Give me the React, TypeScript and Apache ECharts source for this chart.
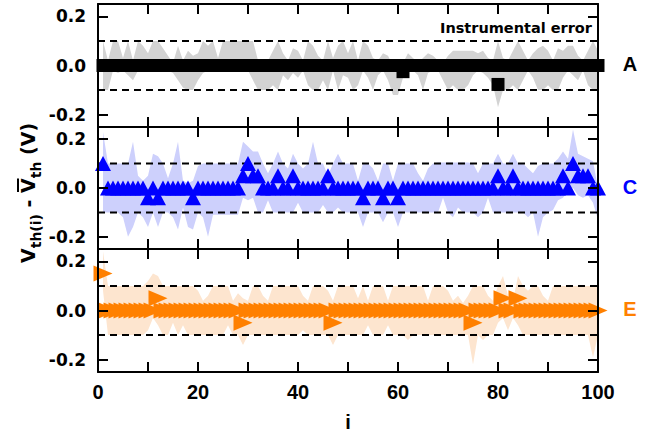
import React, { useEffect, useRef } from "react";
import * as echarts from "echarts";

// ---------- data ----------
const INDEX: number[] = [
  1, 2, 3, 4, 5, 6, 7, 8, 9, 10, 11, 12, 13, 14, 15, 16, 17, 18, 19, 20,
  21, 22, 23, 24, 25, 26, 27, 28, 29, 30, 31, 32, 33, 34, 35, 36, 37, 38, 39, 40,
  41, 42, 43, 44, 45, 46, 47, 48, 49, 50, 51, 52, 53, 54, 55, 56, 57, 58, 59, 60,
  61, 62, 63, 64, 65, 66, 67, 68, 69, 70, 71, 72, 73, 74, 75, 76, 77, 78, 79, 80,
  81, 82, 83, 84, 85, 86, 87, 88, 89, 90, 91, 92, 93, 94, 95, 96, 97, 98, 99, 100,
];

const A_VALUES: number[] = [
  0, 0, 0, 0, 0, 0, 0, 0, 0, 0, 0, 0, 0, 0, 0, 0, 0, 0, 0, 0,
  0, 0, 0, 0, 0, 0, 0, 0, 0, 0, 0, 0, 0, 0, 0, 0, 0, 0, 0, 0,
  0, 0, 0, 0, 0, 0, 0, 0, 0, 0, 0, 0, 0, 0, 0, 0, 0, 0, 0, 0,
  -0.025, 0, 0, 0, 0, 0, 0, 0, 0, 0, 0, 0, 0, 0, 0, 0, 0, 0, 0, -0.077,
  0, 0, 0, 0, 0, 0, 0, 0, 0, 0, 0, 0, 0, 0, 0, 0, 0, 0, 0, 0,
];
const A_UPPER: number[] = [
  0.1, 0.02, 0.1, 0.1, 0.03, 0.1, 0.02, 0.1, 0.08, 0.05,
  0.1, 0.1, 0.07, 0.04, 0.01, 0.08, 0.02, 0.06, 0.04, 0.05,
  0.1, 0.08, 0.1, 0.03, 0.1, 0.1, 0.1, 0.1, 0.1, 0.1,
  0.1, 0.02, 0.0, 0.02, 0.06, 0.1, 0.05, 0.02, 0.07, 0.06,
  0.02, 0.1, 0.08, 0.04, 0.02, 0.1, 0.03, 0.08, 0.1, 0.05,
  0.1, 0.02, 0.1, 0.08, 0.03, 0.02, 0.05, 0.04, 0.0, 0.0,
  0.01, 0.05, 0.03, 0.01, 0.03, 0.05, 0.04, 0.02, 0.01, 0.04,
  0.06, 0.06, 0.06, 0.06, 0.06, 0.05, 0.06, 0.03, 0.02, 0.1,
  0.03, 0.02, 0.06, 0.1, 0.06, 0.02, 0.05, 0.07, 0.08, 0.06,
  0.02, 0.07, 0.06, 0.08, 0.08, 0.04, 0.02, 0.06, 0.1, 0.06,
];
const A_LOWER: number[] = [
  -0.1, -0.1, -0.02, -0.03, -0.02, -0.04, -0.06, -0.02, -0.02, -0.02,
  -0.02, -0.02, -0.02, -0.02, -0.03, -0.06, -0.09, -0.1, -0.1, -0.06,
  -0.03, -0.02, -0.02, -0.02, -0.02, -0.02, -0.02, -0.02, -0.02, -0.02,
  -0.06, -0.1, -0.1, -0.1, -0.08, -0.1, -0.04, -0.06, -0.03, -0.05,
  -0.02, -0.08, -0.1, -0.1, -0.06, -0.1, -0.02, -0.1, -0.04, -0.05,
  -0.1, -0.08, -0.02, -0.05, -0.1, -0.04, -0.02, -0.06, -0.12, -0.12,
  -0.05, -0.02, -0.02, -0.04, -0.1, -0.03, -0.02, -0.02, -0.06, -0.1,
  -0.08, -0.1, -0.1, -0.08, -0.04, -0.02, -0.03, -0.05, -0.08, -0.17,
  -0.1, -0.1, -0.08, -0.1, -0.06, -0.02, -0.05, -0.1, -0.1, -0.08,
  -0.1, -0.1, -0.05, -0.02, -0.04, -0.06, -0.02, -0.08, -0.1, -0.1,
];

const C_VALUES: number[] = [
  0.1, 0, 0, 0, 0, 0, 0, 0, 0, -0.04, 0, -0.04, 0, 0, 0, 0, 0, 0, -0.04, 0,
  0, 0, 0, 0, 0, 0, 0, 0, 0.05, 0.1, 0.05, 0.05, 0, 0, 0, 0.05, 0, 0, 0.05, 0,
  0, 0, 0, 0, 0, 0.05, 0, 0, 0, 0, 0, 0, -0.04, 0, 0, 0, -0.04, 0, 0, -0.04,
  0, 0, 0, 0, 0, 0, 0, 0, 0, 0, 0, 0, 0, 0, 0, 0, 0, 0, 0, 0.05,
  0, 0, 0.05, 0, 0, 0, 0, 0, 0, 0, 0, 0, 0.05, 0, 0.1, 0.05, 0.05, 0.05, 0, 0,
];
const C_UPPER: number[] = [
  0.23, 0.1, 0.1, 0.1, 0.1, 0.1, 0.19, 0.05, 0.03, 0.05,
  0.14, 0.13, 0.1, 0.04, 0.1, 0.19, 0.03, 0.02, 0.03, 0.09,
  0.1, 0.1, 0.1, 0.1, 0.1, 0.1, 0.1, 0.1, 0.19, 0.17,
  0.15, 0.15, 0.1, 0.06, 0.1, 0.15, 0.1, 0.08, 0.14, 0.1,
  0.08, 0.1, 0.19, 0.1, 0.1, 0.05, 0.1, 0.14, 0.1, 0.1,
  0.1, 0.03, 0.1, 0.1, 0.08, 0.03, 0.1, 0.1, 0.03, 0.1,
  0.1, 0.1, 0.1, 0.06, 0.03, 0.08, 0.1, 0.105, 0.105, 0.105,
  0.105, 0.105, 0.105, 0.105, 0.1, 0.06, 0.1, 0.1, 0.1, 0.14,
  0.1, 0.1, 0.14, 0.1, 0.1, 0.08, 0.06, 0.09, 0.1, 0.1,
  0.1, 0.12, 0.15, 0.12, 0.24, 0.14, 0.13, 0.12, 0.11, 0.0,
];
const C_LOWER: number[] = [
  -0.1, -0.1, -0.1, -0.1, -0.12, -0.2, -0.16, -0.1, -0.12, -0.16,
  -0.1, -0.16, -0.1, -0.1, -0.12, -0.17, -0.08, -0.16, -0.17, -0.1,
  -0.12, -0.2, -0.11, -0.11, -0.11, -0.11, -0.11, -0.11, -0.04, -0.05,
  -0.04, -0.1, -0.1, -0.05, -0.1, -0.1, -0.1, -0.1, -0.1, -0.06,
  -0.1, -0.1, -0.1, -0.1, -0.07, -0.1, -0.1, -0.08, -0.1, -0.1,
  -0.1, -0.1, -0.16, -0.1, -0.1, -0.1, -0.14, -0.1, -0.1, -0.16,
  -0.1, -0.1, -0.1, -0.1, -0.1, -0.1, -0.1, -0.1, -0.04, -0.1,
  -0.12, -0.08, -0.1, -0.1, -0.1, -0.12, -0.1, -0.04, -0.1, -0.1,
  -0.1, -0.1, -0.1, -0.1, -0.1, -0.12, -0.1, -0.2, -0.12, -0.1,
  -0.09, -0.05, -0.04, -0.01, 0.0, -0.03, -0.04, -0.03, -0.06, -0.13,
];

const E_VALUES: number[] = [
  0.15, 0, 0, 0, 0, 0, 0, 0, 0, 0, 0, 0.05, 0, 0, 0, 0, 0, 0, 0, 0,
  0, 0, 0, 0, 0, 0, 0, 0, -0.05, 0, 0, 0, 0, 0, 0, 0, 0, 0, 0, 0,
  0, 0, 0, 0, 0, 0, -0.05, 0, 0, 0, 0, 0, 0, 0, 0, 0, 0, 0, 0, 0,
  0, 0, 0, 0, 0, 0, 0, 0, 0, 0, 0, 0, 0, 0, -0.05, 0, 0, 0, 0, 0,
  0.05, 0, 0, 0.05, 0, 0, 0, 0, 0, 0, 0, 0, 0, 0, 0, 0, 0, 0, 0, 0,
];
const E_UPPER: number[] = [
  0.24, 0.1, 0.1, 0.1, 0.1, 0.1, 0.1, 0.1, 0.1, 0.12,
  0.15, 0.14, 0.1, 0.1, 0.1, 0.1, 0.1, 0.1, 0.1, 0.08,
  0.04, 0.06, 0.1, 0.1, 0.1, 0.1, 0.04, 0.07, 0.05, 0.04,
  0.1, 0.1, 0.06, 0.04, 0.1, 0.1, 0.1, 0.1, 0.1, 0.1,
  0.06, 0.04, 0.1, 0.1, 0.1, 0.08, 0.04, 0.1, 0.1, 0.1,
  0.1, 0.05, 0.1, 0.04, 0.1, 0.1, 0.1, 0.04, 0.1, 0.1,
  0.1, 0.1, 0.1, 0.1, 0.1, 0.04, 0.1, 0.1, 0.1, 0.08,
  0.04, 0.06, 0.03, 0.06, 0.1, 0.1, 0.1, 0.06, 0.04, 0.1,
  0.14, 0.06, 0.04, 0.14, 0.1, 0.08, 0.1, 0.1, 0.06, 0.04,
  0.1, 0.1, 0.1, 0.1, 0.1, 0.1, 0.1, 0.1, 0.1, 0.1,
];
const E_LOWER: number[] = [
  0.08, -0.1, -0.1, -0.1, -0.1, -0.1, -0.1, -0.1, -0.1, -0.08,
  -0.03, -0.06, -0.1, -0.1, -0.05, -0.1, -0.06, -0.1, -0.1, -0.1,
  -0.1, -0.1, -0.1, -0.1, -0.1, -0.06, -0.1, -0.1, -0.14, -0.1,
  -0.1, -0.1, -0.1, -0.1, -0.1, -0.1, -0.1, -0.1, -0.1, -0.1,
  -0.08, -0.1, -0.1, -0.1, -0.1, -0.1, -0.14, -0.1, -0.1, -0.1,
  -0.1, -0.1, -0.1, -0.06, -0.1, -0.1, -0.1, -0.06, -0.1, -0.1,
  -0.1, -0.12, -0.1, -0.1, -0.1, -0.1, -0.1, -0.1, -0.1, -0.1,
  -0.1, -0.1, -0.1, -0.1, -0.22, -0.1, -0.12, -0.1, -0.1, -0.05,
  -0.03, -0.08, -0.03, -0.06, -0.1, -0.1, -0.1, -0.1, -0.1, -0.1,
  -0.1, -0.1, -0.1, -0.1, -0.1, -0.1, -0.1, -0.1, -0.19, -0.1,
];

const PANEL_NAMES: string[] = ["A", "C", "E"];
const ERROR_LIMITS: number[] = [0.1, -0.1];
const X_TICK_LABELS: number[] = [0, 20, 40, 60, 80, 100];
const Y_TICK_VALUES: number[] = [-0.2, 0, 0.2];
const X_RANGE: number[] = [0, 100];
const Y_RANGE: number[] = [-0.25, 0.25];

// ---------- styles ----------
const FONT_WIDE = "DejaVu Sans";
const FONT = "Liberation Sans";
const GRID_TOPS = [4, 127, 249];
const GRID_HEIGHTS = [123, 122, 123];
const MARK_COLORS = ["#000000", "#0000ff", "#ff8000"];
const BAND_COLORS = ["#d3d3d3", "#cdd0fc", "#fde5cf"];
const SYMBOLS = ["rect", "triangle", "path://M0,0L10,5L0,10Z"];
const SYMBOL_SIZES: any[] = [13, [16, 15], [19, 16]];

const PANELS = [
  { values: A_VALUES, upper: A_UPPER, lower: A_LOWER },
  { values: C_VALUES, upper: C_UPPER, lower: C_LOWER },
  { values: E_VALUES, upper: E_UPPER, lower: E_LOWER },
];

function buildOption(): any {
  const grids: any[] = [];
  const xAxes: any[] = [];
  const yAxes: any[] = [];
  const series: any[] = [];
  const axisLine = { show: true, onZero: false, lineStyle: { color: "#000", width: 2 } };
  const tickStyle = { color: "#000", width: 2 };

  PANELS.forEach((p, g) => {
    grids.push({ left: 98, right: 58, top: GRID_TOPS[g], height: GRID_HEIGHTS[g], containLabel: false });
    const isBottom = g === PANELS.length - 1;
    xAxes.push({
      type: "value", gridIndex: g, position: "bottom", min: X_RANGE[0], max: X_RANGE[1], interval: 10,
      axisLine, axisTick: { show: true, inside: true, length: 10, lineStyle: tickStyle },
      splitLine: { show: false },
      axisLabel: {
        show: isBottom, customValues: X_TICK_LABELS, margin: 10,
        fontFamily: FONT, fontWeight: "bold", fontSize: 20, color: "#000",
      },
      name: isBottom ? "i" : "", nameLocation: "middle", nameGap: 40,
      nameTextStyle: { fontFamily: FONT, fontWeight: "bold", fontSize: 20, color: "#000" },
      z: 5,
    });
    xAxes.push({
      type: "value", gridIndex: g, position: "top", min: X_RANGE[0], max: X_RANGE[1], interval: 10,
      axisLine, axisTick: { show: true, inside: true, length: 10, lineStyle: tickStyle },
      splitLine: { show: false }, axisLabel: { show: false }, z: 5,
    });
    yAxes.push({
      type: "value", gridIndex: g, position: "left", min: Y_RANGE[0], max: Y_RANGE[1],
      axisLine, axisTick: { show: true, inside: true, length: 10, lineStyle: tickStyle, customValues: Y_TICK_VALUES },
      splitLine: { show: false },
      axisLabel: {
        show: true, customValues: Y_TICK_VALUES, margin: 12,
        formatter: (v: number) => v.toFixed(1),
        fontFamily: FONT_WIDE, fontWeight: "bold", fontSize: 17, color: "#000",
      },
      z: 5,
    });
    yAxes.push({
      type: "value", gridIndex: g, position: "right", min: Y_RANGE[0], max: Y_RANGE[1],
      axisLine, axisTick: { show: true, inside: true, length: 10, lineStyle: tickStyle, customValues: Y_TICK_VALUES },
      splitLine: { show: false }, axisLabel: { show: false }, z: 5,
    });

    const xi = 2 * g;
    const yi = 2 * g;
    const color = BAND_COLORS[g];
    series.push({
      type: "custom", coordinateSystem: "cartesian2d", xAxisIndex: xi, yAxisIndex: yi,
      data: INDEX.map((x, k) => [x, p.lower[k], p.upper[k]]),
      encode: { x: 0, y: [1, 2] }, silent: true, z: 1,
      renderItem: (params: any, api: any) => {
        if (params.dataIndex !== 0) return null;
        const pts: number[][] = [];
        for (let k = 0; k < INDEX.length; k++) pts.push(api.coord([INDEX[k], p.upper[k]]));
        for (let k = INDEX.length - 1; k >= 0; k--) pts.push(api.coord([INDEX[k], p.lower[k]]));
        return { type: "polygon", shape: { points: pts }, style: { fill: color, stroke: "none" } };
      },
    });
    ERROR_LIMITS.forEach((v) => {
      series.push({
        type: "line", xAxisIndex: xi, yAxisIndex: yi, silent: true, z: 2,
        data: [[X_RANGE[0], v], [X_RANGE[1], v]], symbol: "none", showSymbol: false,
        lineStyle: { color: "#000", width: 2, type: [7, 5] },
      });
    });
    series.push({
      type: "scatter", xAxisIndex: xi, yAxisIndex: yi, clip: false,
      data: INDEX.map((x, k) => [x, p.values[k]]),
      symbol: SYMBOLS[g], symbolSize: SYMBOL_SIZES[g],
      itemStyle: { color: MARK_COLORS[g], opacity: 1 }, z: 3, silent: true,
    });
  });

  const titleX = 28;
  const titleY = 263;
  const big = { fontFamily: FONT_WIDE, fontWeight: "bold", fontSize: 19, fill: "#000", verticalAlign: "middle", align: "left" };
  const sub = { fontFamily: FONT_WIDE, fontWeight: "bold", fontSize: 14, fill: "#000", verticalAlign: "middle", align: "left" };

  const graphic: any[] = [
    {
      type: "group", x: titleX, y: titleY, rotation: Math.PI / 2, z: 10,
      children: [
        { type: "text", x: 0, y: 0, style: { ...big, text: "V" } },
        { type: "text", x: 14.7, y: 8, style: { ...sub, text: "th(i)" } },
        { type: "text", x: 49, y: 0, style: { ...big, text: " - " } },
        { type: "text", x: 70.1, y: 0, style: { ...big, text: "V" } },
        { type: "line", shape: { x1: 71, y1: -10, x2: 84.5, y2: -10 }, style: { stroke: "#000", lineWidth: 2 } },
        { type: "text", x: 84.8, y: 8, style: { ...sub, text: "th" } },
        { type: "text", x: 101.5, y: 0, style: { ...big, text: " (V)" } },
      ],
    },
    {
      type: "text", x: 592, y: 28, z: 10,
      style: { text: "Instrumental error", fontFamily: FONT_WIDE, fontWeight: "bold", fontSize: 14.5, fill: "#000", align: "right", verticalAlign: "middle" },
    },
  ];
  PANEL_NAMES.forEach((name, g) => {
    graphic.push({
      type: "text", x: 630, y: GRID_TOPS[g] + GRID_HEIGHTS[g] / 2 - 1.5, z: 10,
      style: { text: name, fontFamily: FONT, fontWeight: "bold", fontSize: 20, fill: MARK_COLORS[g], align: "center", verticalAlign: "middle" },
    });
  });

  return {
    animation: false,
    backgroundColor: "#ffffff",
    grid: grids,
    xAxis: xAxes,
    yAxis: yAxes,
    series,
    graphic,
  };
}

export default function App() {
  const ref = useRef<HTMLDivElement>(null);
  useEffect(() => {
    if (!ref.current) return;
    const chart = echarts.init(ref.current, undefined, { renderer: "svg" });
    chart.setOption(buildOption());
    return () => chart.dispose();
  }, []);
  return <div ref={ref} style={{ position: "fixed", left: 0, top: 0, width: 656, height: 437 }} />;
}
